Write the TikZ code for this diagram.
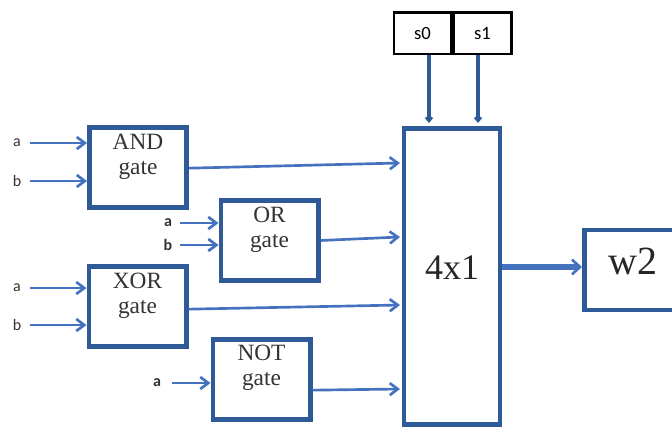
\documentclass[tikz,border=0pt]{standalone}
\usepackage{fontspec}
\setmainfont{Liberation Serif}
\newfontfamily\lblfont{Carlito}
\usetikzlibrary{arrows.meta}
\definecolor{boxblue}{RGB}{46,90,152}
\definecolor{arrblue}{RGB}{68,114,190}
\tikzset{
  gatebox/.style={draw=boxblue, line width=3.5pt, minimum width=73pt, minimum height=60pt, inner sep=0pt, align=center, font=\fontsize{17.5}{18.5}\selectfont, text=black!80},
  gatetext/.style={align=center, font=\fontsize{17.5}{18.5}\selectfont, text=black!80, inner sep=0pt},
  sig/.style={draw=arrblue, line width=2pt, -{Straight Barb[length=6pt,width=9pt,line width=2pt]}},
  inlbl/.style={font=\lblfont\fontsize{12}{12}\selectfont, text=black!80, inner sep=0pt},
  selbox/.style={draw=black, line width=2pt, minimum width=43pt, minimum height=31pt, inner sep=0pt, font=\lblfont\fontsize{14}{14}\selectfont}
}
\begin{document}
\begin{tikzpicture}[x=0.75pt,y=-0.75pt]
\useasboundingbox (0,0) rectangle (672,428);
\clip (0,0) rectangle (672,428);
% gates
\node[gatebox] (and) at (138,167.5) {};
\node[gatebox] (or)  at (269.5,240.5) {};
\node[gatebox] (xor) at (137.5,306.5) {};
\node[gatebox] (not) at (261.5,379.5) {};
\node[gatetext] at (138,157) {AND\\gate};
\node[gatetext] at (269.5,230) {OR\\gate};
\node[gatetext] at (137.5,296) {XOR\\gate};
\node[gatetext] at (261.5,368) {NOT\\gate};
% mux
\node[draw=boxblue, line width=3.5pt, minimum width=72pt, minimum height=222pt, inner sep=0pt] (mux) at (452,276.5) {};
\node[font=\fontsize{27}{27}\selectfont, text=black!85, inner sep=0pt] at (452,268) {4x1};
% output
\node[draw=boxblue, line width=3.5pt, minimum width=75pt, minimum height=60pt, inner sep=0pt, anchor=west] (w2) at (582,270) {};
\node[font=\fontsize{30}{30}\selectfont, text=black!85, inner sep=0pt] at (633,261) {w2};
% select
\node[selbox] (s0) at (422.5,33.5) {s0};
\node[selbox, anchor=west] (s1) at (s0.east) {s1};
% input labels
\node[inlbl] (a1) at (17,143) {a};
\node[inlbl] (b1) at (17,181) {b};
\node[inlbl] (a2) at (168,223) {\bfseries a};
\node[inlbl] (b2) at (168,245) {\bfseries b};
\node[inlbl] (a3) at (17,288) {a};
\node[inlbl] (b3) at (17,325) {b};
\node[inlbl] (a4) at (157,383) {\bfseries a};
% input arrows
\coordinate (a1e) at (30,143); \coordinate (b1e) at (30,181);
\coordinate (a2e) at (180,223); \coordinate (b2e) at (180,245);
\coordinate (a3e) at (30,288); \coordinate (b3e) at (30,325);
\coordinate (a4e) at (172,383);
\draw[sig] (a1e) -- (and.west |- a1e);
\draw[sig] (b1e) -- (and.west |- b1e);
\draw[sig] (a2e) -- (or.west |- a2e);
\draw[sig] (b2e) -- (or.west |- b2e);
\draw[sig] (a3e) -- (xor.west |- a3e);
\draw[sig] (b3e) -- (xor.west |- b3e);
\draw[sig] (a4e) -- (not.west |- a4e);
% gate outputs
\coordinate (m1) at (400,163); \coordinate (m2) at (400,237);
\coordinate (m3) at (400,305); \coordinate (m4) at (400,389);
\draw[sig] ([yshift=-0.5pt]and.east) -- (m1);
\draw[sig] (or.east) -- (m2);
\draw[sig] ([yshift=-2pt]xor.east) -- (m3);
\draw[sig] ([yshift=-8pt]not.east) -- (m4);
% select lines
\coordinate (t0) at (429,123); \coordinate (t1) at (478,123);
\draw[draw=boxblue, line width=3pt, -{Straight Barb[length=3pt,width=5pt,line width=1.5pt]}] (s0.south -| t0) -- (t0);
\draw[draw=boxblue, line width=3pt, -{Straight Barb[length=3pt,width=5pt,line width=1.5pt]}] (s1.south -| t1) -- (t1);
% mux output
\draw[draw=arrblue, line width=5pt, -{Straight Barb[length=6pt,width=11pt,line width=2pt]}] (mux.east |- 0,267) -- (w2.west |- 0,267);
\end{tikzpicture}
\end{document}
